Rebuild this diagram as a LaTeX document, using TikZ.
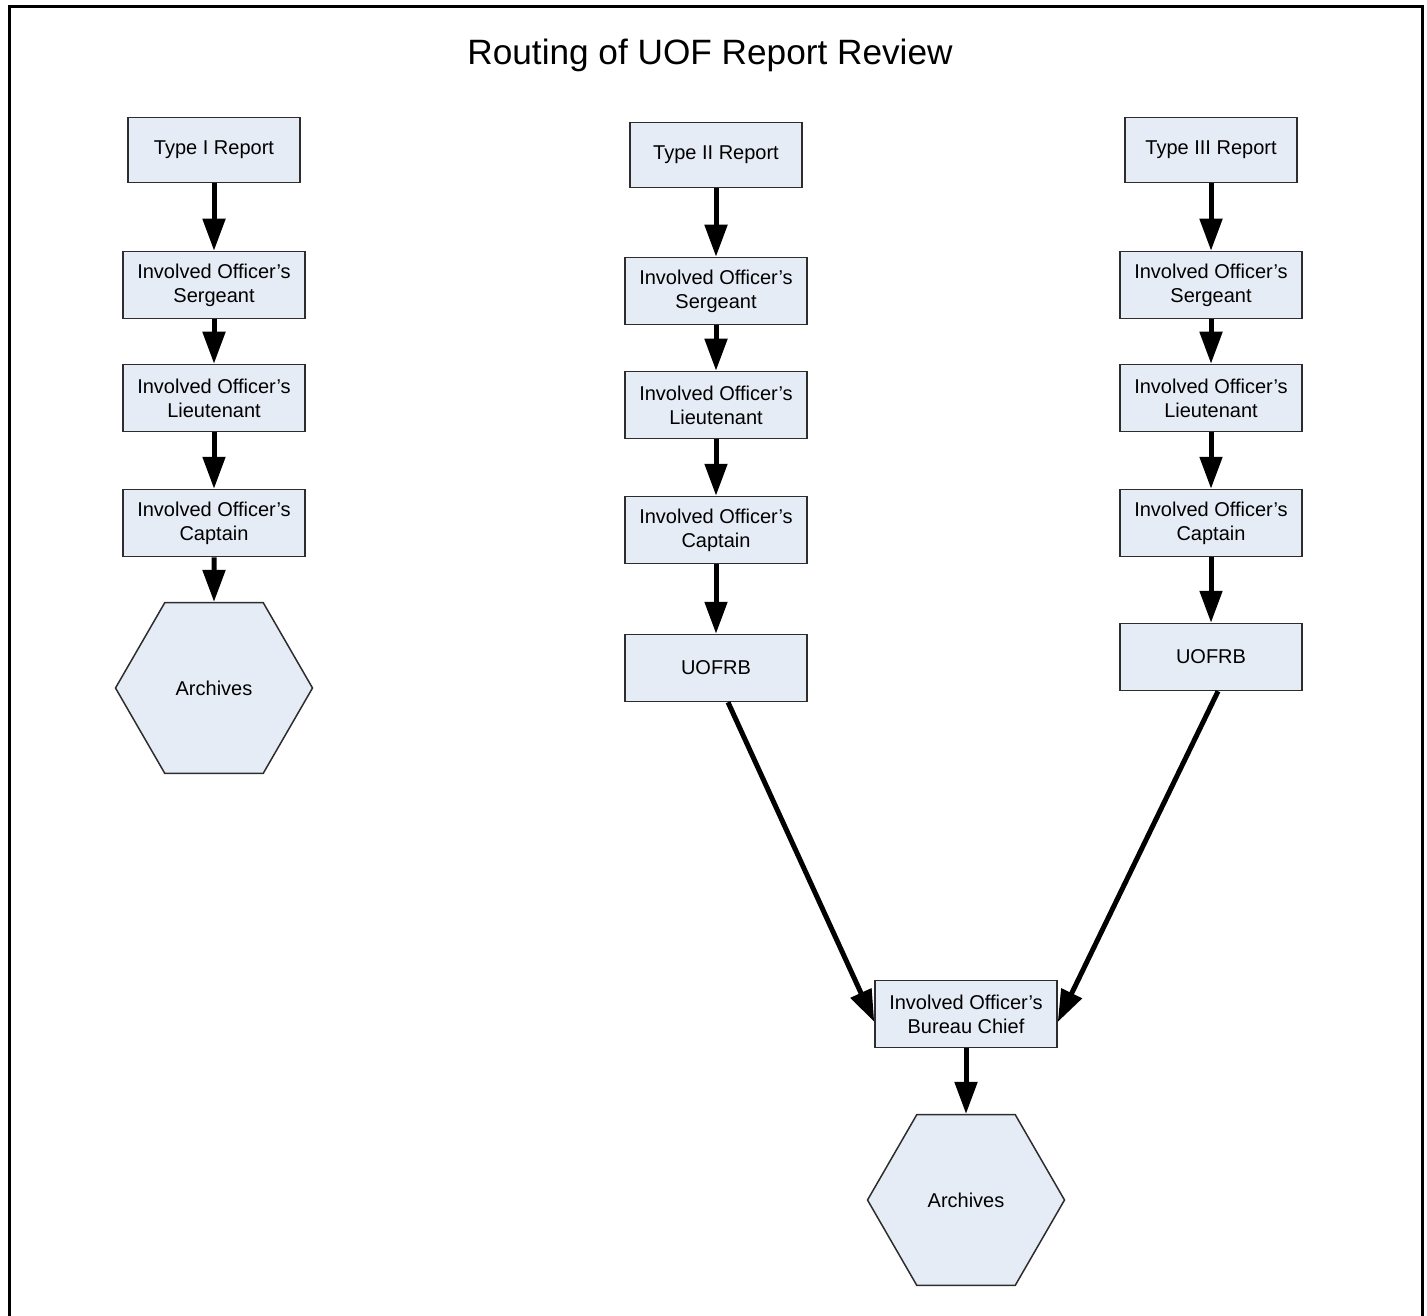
\documentclass[tikz,border=0pt]{standalone}
\usepackage{fontspec}
\setmainfont{Liberation Sans}
\usetikzlibrary{shapes.geometric,arrows.meta,positioning}
\definecolor{boxfill}{RGB}{230,236,246}
\definecolor{boxline}{RGB}{45,45,45}
\tikzset{
  stepbox/.style={draw=boxline, line width=0.75pt, fill=boxfill, minimum width=91pt, minimum height=33.5pt, inner sep=2pt, align=center, font=\fontsize{10}{12}\selectfont},
  typebox/.style={stepbox, minimum width=86pt, minimum height=32.5pt},
  archive/.style={regular polygon, regular polygon sides=6, draw=boxline, line width=0.75pt, fill=boxfill, minimum size=98.5pt, inner sep=0pt, font=\fontsize{10}{12}\selectfont},
  flow/.style={line width=2.5pt, -{Triangle[width=11pt,length=16pt]}}
}

\begin{document}
\begin{tikzpicture}[x=0.5pt,y=-0.5pt]
    \useasboundingbox (0,0) rectangle (1427,1315);
    \fill[white] (0,0) rectangle (1427,1315);
    \draw[line width=1.5pt] (9.5,1330) -- (9.5,7) -- (1422,7) -- (1422,1330);
    \node[font=\fontsize{17.6}{20}\selectfont] (title) at (710,55) {Routing of UOF Report Review};
    % Type I
    \node[typebox] (t1) at (214,150) {Type I Report};
    \node[stepbox] (sgt1) at (214,285) {Involved Officer’s\\Sergeant};
    \node[stepbox] (lt1) at (214,398) {Involved Officer’s\\Lieutenant};
    \node[stepbox] (cpt1) at (214,523) {Involved Officer’s\\Captain};
    \node[archive] (arch1) at (214,688) {Archives};
    % Type II
    \node[typebox] (t2) at (716,155) {Type II Report};
    \node[stepbox] (sgt2) at (716,291) {Involved Officer’s\\Sergeant};
    \node[stepbox] (lt2) at (716,405) {Involved Officer’s\\Lieutenant};
    \node[stepbox] (cpt2) at (716,530) {Involved Officer’s\\Captain};
    \node[stepbox] (uofrb2) at (716,668) {UOFRB};
    % Type III
    \node[typebox] (t3) at (1211,150) {Type III Report};
    \node[stepbox] (sgt3) at (1211,285) {Involved Officer’s\\Sergeant};
    \node[stepbox] (lt3) at (1211,398) {Involved Officer’s\\Lieutenant};
    \node[stepbox] (cpt3) at (1211,523) {Involved Officer’s\\Captain};
    \node[stepbox] (uofrb3) at (1211,657) {UOFRB};
    % Bureau chief
    \node[stepbox] (chief) at (966,1014) {Involved Officer’s\\Bureau Chief};
    \node[archive] (arch2) at (966,1200) {Archives};
    % arrows
    \draw[flow] (t1) -- (sgt1);
    \draw[flow] (sgt1) -- (lt1);
    \draw[flow] (lt1) -- (cpt1);
    \draw[flow] (cpt1) -- (arch1);
    \draw[flow] (t2) -- (sgt2);
    \draw[flow] (sgt2) -- (lt2);
    \draw[flow] (lt2) -- (cpt2);
    \draw[flow] (cpt2) -- (uofrb2);
    \draw[flow] (t3) -- (sgt3);
    \draw[flow] (sgt3) -- (lt3);
    \draw[flow] (lt3) -- (cpt3);
    \draw[flow] (cpt3) -- (uofrb3);
    \draw[flow] ([xshift=6pt]uofrb2.south) -- ([yshift=-4pt]chief.west);
    \draw[flow] ([xshift=3.5pt]uofrb3.south) -- ([yshift=-4pt]chief.east);
    \draw[flow] (chief) -- (arch2);
\end{tikzpicture}
\end{document}
